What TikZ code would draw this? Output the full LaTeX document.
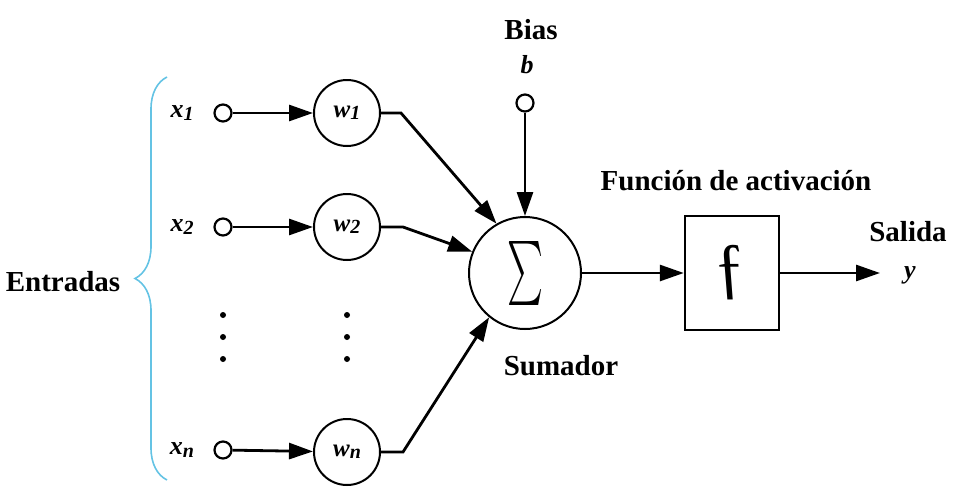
\documentclass[tikz,border=0pt]{standalone}
\usepackage{fontspec}
\setmainfont{Liberation Serif}
\usetikzlibrary{arrows.meta,decorations.pathreplacing}
\definecolor{bracecol}{RGB}{100,195,228}
\tikzset{
  lbl/.style={font=\fontsize{29}{29}\selectfont\bfseries, inner sep=0pt},
  var/.style={font=\fontsize{26}{26}\selectfont\bfseries\itshape, inner sep=0pt},
  inp/.style={circle, draw, line width=2.2pt, minimum size=17pt, inner sep=0pt},
  wnode/.style={circle, draw, line width=2pt, minimum size=66pt, inner sep=0pt,
    font=\fontsize{25}{25}\selectfont\bfseries\itshape},
  sumnode/.style={circle, draw, line width=2pt, minimum size=112pt, inner sep=0pt},
  fnode/.style={rectangle, draw, line width=2.4pt, minimum width=94pt, minimum height=114pt, inner sep=0pt},
  arr/.style={line width=2.8pt, -{Triangle[length=24pt,width=16pt]}},
  dot/.style={circle, fill, minimum size=6pt, inner sep=0pt}
}
\newcommand{\sbs}[1]{\raisebox{-2.5pt}{\fontsize{20}{20}\selectfont #1}}
\begin{document}
\begin{tikzpicture}[x=1pt,y=-1pt]
\useasboundingbox (0,0) rectangle (967,498);
% inputs
\node[var] (lx1) at (182,113) {x\sbs{1}};
\node[var] (lx2) at (182,227) {x\sbs{2}};
\node[var] (lxn) at (182,450) {x\sbs{n}};
\node[inp] (i1) at (223,113) {};
\node[inp] (i2) at (223,227) {};
\node[inp] (in) at (223,450) {};
% weights
\node[wnode] (w1) at (347,113) {w\sbs{1}};
\node[wnode] (w2) at (347,227) {w\sbs{2}};
\node[wnode] (wn) at (347,452) {w\sbs{n}};
% dots
\node[dot] (d1) at (223,315) {};
\node[dot] (d2) at (223,337) {};
\node[dot] (d3) at (223,359) {};
\node[dot] (e1) at (347,315) {};
\node[dot] (e2) at (347,337) {};
\node[dot] (e3) at (347,359) {};
% summer
\node[sumnode] (s) at (525,273) {\resizebox{36pt}{48pt}{$\sum$}};
\node[lbl] (sl) at (561,366) {Sumador};
% bias
\node[lbl] (bias) at (531,30) {Bias};
\node[var] (bl) at (527,65) {b};
\node[inp] (b0) at (525,103) {};
% activation
\node[fnode] (f) at (732,273) {};
\node[inner sep=0pt, xslant=-0.22, transform shape, font=\fontsize{68}{68}\selectfont] (fg) at (f.center) {ƒ};
\node[lbl] (fl) at (736,181) {Función de activación};
\node[lbl] (sal) at (908,232) {Salida};
\node[var] (yl) at (910,275) {y};
\coordinate (yout) at (880,273);
% brace
\coordinate (bb) at (167,480);
\coordinate (bt) at (167,77);
\draw[bracecol, line width=1.6pt, decorate, decoration={brace, amplitude=32pt, aspect=0.5}] (bb) -- (bt);
\node[lbl] (ent) at (63,282) {Entradas};
% connectors
\draw[arr] (i1) -- (w1);
\draw[arr] (i2) -- (w2);
\draw[arr] (in) -- (wn);
\draw[arr] (w1.east) -- ++(20,0) -- (s.120);
\draw[arr] (w2.east) -- ++(22,0) -- (s.158);
\draw[arr] (wn.east) -- ++(22,0) -- (s.231);
\draw[arr] (b0) -- (s.north);
\draw[arr] (s.east) -- (f.west);
\draw[arr] (f.east) -- (yout);
\end{tikzpicture}
\end{document}
